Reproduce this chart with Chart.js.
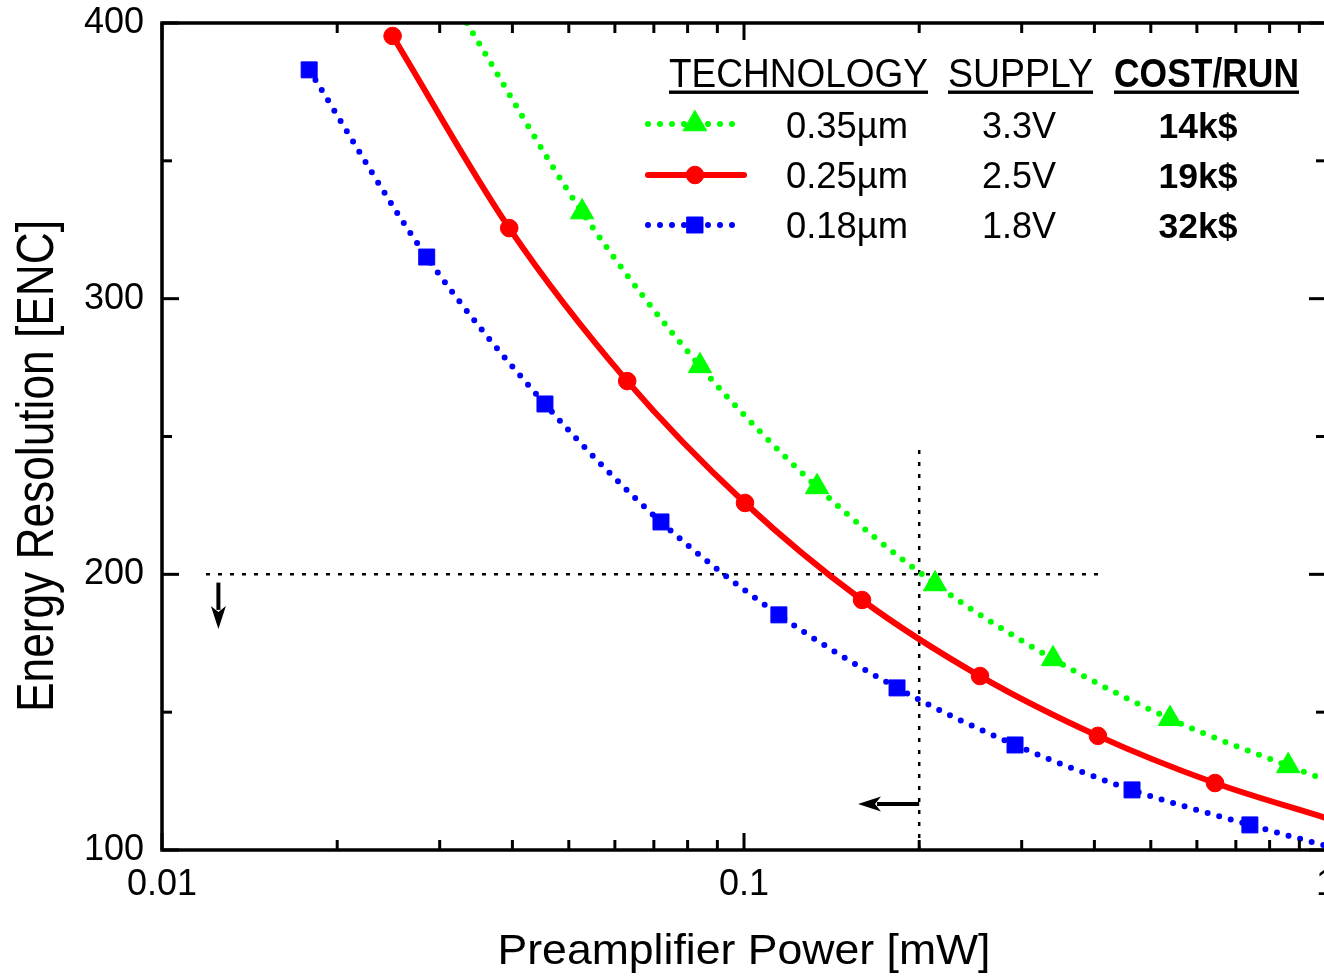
<!DOCTYPE html>
<html><head><meta charset="utf-8">
<script src="https://cdn.jsdelivr.net/npm/chart.js@4.4.1/dist/chart.umd.min.js"></script>
<style>
html,body{margin:0;padding:0;overflow:hidden;background:#fff;width:1324px;height:979px}
#wrap{position:relative;width:1324px;height:979px;overflow:hidden}
canvas{display:block}
</style></head>
<body><div id="wrap"><canvas id="c" width="1360" height="979"></canvas></div>
<script>
const FONT = '"Liberation Sans", Arial, Helvetica, sans-serif';

// ---- axis ticks ----
const xTickValues = [0.01, 0.1, 1];
const xTickLabels = ['0.01', '0.1', '1'];
const yTickValues = [100, 200, 300, 400];

// ---- legend table ----
const technology = ['0.35µm', '0.25µm', '0.18µm'];
const supply = ['3.3V', '2.5V', '1.8V'];
const costPerRun = ['14k$', '19k$', '32k$'];

// ---- 0.35µm (green) ----
const power035 = [0.0527, 0.0840, 0.1335, 0.2130, 0.3396, 0.5395, 0.861];
const enc035 = [331.4, 275.6, 231.7, 196.5, 169.3, 147.6, 130.5];
const curvePower035 = [0.0334, 0.0527, 0.0840, 0.1335, 0.2130, 0.3396, 0.5395, 0.861, 1.0];
const curveEnc035 = [400, 331.4, 275.6, 231.7, 196.5, 169.3, 147.6, 130.5, 125.4];

// ---- 0.25µm (red) ----
const power025 = [0.0249, 0.0395, 0.0630, 0.1004, 0.1595, 0.2544, 0.4056, 0.6446];
const enc025 = [395.3, 325.6, 270.1, 225.9, 190.7, 163.1, 141.4, 124.3];
const curvePower025 = [0.0249, 0.0395, 0.0630, 0.1004, 0.1595, 0.2544, 0.4056, 0.6446, 1.0];
const curveEnc025 = [395.3, 325.6, 270.1, 225.9, 190.7, 163.1, 141.4, 124.3, 111.6];

// ---- 0.18µm (blue) ----
const power018 = [0.0179, 0.0285, 0.0455, 0.0720, 0.1148, 0.1832, 0.2922, 0.4642, 0.740];
const enc018 = [383, 315.1, 261.8, 219, 185.3, 158.8, 138.1, 121.8, 109.1];
const curvePower018 = [0.0179, 0.0285, 0.0455, 0.0720, 0.1148, 0.1832, 0.2922, 0.4642, 0.740, 1.0];
const curveEnc018 = [383, 315.1, 261.8, 219, 185.3, 158.8, 138.1, 121.8, 109.1, 101.5];

// ---- guide lines and arrows ----
const guideHPower = [0.0119, 0.417];
const guideHEnc = [200, 200];
const guideVPower = [0.2, 0.2];
const guideVEnc = [100, 248];
const arrowDownPower = [0.0125, 0.0125];
const arrowDownEnc = [197, 180.2];
const arrowLeftPower = [0.2, 0.157];
const arrowLeftEnc = [116.7, 116.7];

const pts = (xs, ys) => xs.map((x, i) => ({x, y: ys[i]}));

const GREEN = '#00ff00', RED = '#ff0000', BLUE = '#0000ff';
const styles = [
  {color: GREEN, width: 6, dash: [0, 12], pointStyle: 'triangle', radius: 13.5},
  {color: RED, width: 6, dash: [], pointStyle: 'circle', radius: 8.8},
  {color: BLUE, width: 6, dash: [0, 12], pointStyle: 'rect', radius: 11.3}
];

function markerSet(xs, ys, s) {
  return {data: pts(xs, ys), showLine: false, pointStyle: s.pointStyle, pointRadius: s.radius,
    pointBackgroundColor: s.color, pointBorderColor: s.color, pointBorderWidth: 1, pointHoverRadius: s.radius};
}
function curveSet(xs, ys, s) {
  return {data: pts(xs, ys), borderColor: s.color, borderWidth: s.width, borderDash: s.dash,
    borderCapStyle: 'round', borderJoinStyle: 'round', pointRadius: 0, pointHoverRadius: 0,
    cubicInterpolationMode: 'monotone', fill: false};
}
function guideSet(xs, ys) {
  return {data: pts(xs, ys), borderColor: '#000', borderWidth: 2.5, borderDash: [4, 8],
    pointRadius: 0, pointHoverRadius: 0, tension: 0, fill: false};
}

const datasets = [
  markerSet(power035, enc035, styles[0]),
  markerSet(power025, enc025, styles[1]),
  markerSet(power018, enc018, styles[2]),
  curveSet(curvePower035, curveEnc035, styles[0]),
  curveSet(curvePower025, curveEnc025, styles[1]),
  curveSet(curvePower018, curveEnc018, styles[2]),
  guideSet(guideHPower, guideHEnc),
  guideSet(guideVPower, guideVEnc)
];

function fitText(ctx, text, x, y, font, targetWidth, align) {
  ctx.save();
  ctx.font = font;
  const w = ctx.measureText(text).width;
  const sx = targetWidth ? targetWidth / w : 1;
  const drawW = w * sx;
  let left = x;
  if (align === 'center') left = x - drawW / 2;
  else if (align === 'right') left = x - drawW;
  ctx.translate(left, y);
  ctx.scale(sx, 1);
  ctx.textAlign = 'left';
  ctx.textBaseline = 'alphabetic';
  ctx.fillText(text, 0, 0);
  ctx.restore();
  return {left, width: drawW};
}

function arrow(ctx, x1, y1, x2, y2) {
  const ang = Math.atan2(y2 - y1, x2 - x1);
  const headL = 23, headW = 7.5;
  const bx = x2 - Math.cos(ang) * headL, by = y2 - Math.sin(ang) * headL;
  ctx.save();
  ctx.strokeStyle = '#000'; ctx.fillStyle = '#000'; ctx.lineWidth = 4; ctx.setLineDash([]);
  ctx.beginPath(); ctx.moveTo(x1, y1); ctx.lineTo(bx + Math.cos(ang) * 4, by + Math.sin(ang) * 4); ctx.stroke();
  ctx.beginPath();
  ctx.moveTo(x2, y2);
  ctx.lineTo(bx + Math.sin(ang) * headW, by - Math.cos(ang) * headW);
  ctx.lineTo(bx + Math.cos(ang) * 6, by + Math.sin(ang) * 6);
  ctx.lineTo(bx - Math.sin(ang) * headW, by + Math.cos(ang) * headW);
  ctx.closePath(); ctx.fill();
  ctx.restore();
}

const decorations = {
  id: 'decorations',
  beforeDatasetsDraw(chart) {
    const {ctx, scales: {x, y}} = chart;
    arrow(ctx, x.getPixelForValue(arrowDownPower[0]), y.getPixelForValue(arrowDownEnc[0]),
      x.getPixelForValue(arrowDownPower[1]), y.getPixelForValue(arrowDownEnc[1]));
    arrow(ctx, x.getPixelForValue(arrowLeftPower[0]), y.getPixelForValue(arrowLeftEnc[0]),
      x.getPixelForValue(arrowLeftPower[1]), y.getPixelForValue(arrowLeftEnc[1]));
  },
  afterDatasetsDraw(chart) {
    const {ctx, chartArea: a, scales: {x, y}} = chart;
    ctx.save();
    ctx.strokeStyle = '#000';
    ctx.setLineDash([]);
    // frame
    ctx.lineWidth = 3.5;
    ctx.strokeRect(a.left, a.top, a.right - a.left, a.bottom - a.top);
    // x ticks
    ctx.lineWidth = 3;
    const xmin = x.min, xmax = x.max;
    for (let d = xmin; d < xmax * 0.999; d *= 10) {
      for (let k = 1; k <= 9; k++) {
        const v = d * k;
        const px = x.getPixelForValue(v);
        const L = k === 1 ? 17 : 10;
        ctx.beginPath(); ctx.moveTo(px, a.bottom); ctx.lineTo(px, a.bottom - L); ctx.stroke();
        ctx.beginPath(); ctx.moveTo(px, a.top); ctx.lineTo(px, a.top + L); ctx.stroke();
      }
    }
    // y ticks
    for (let v = y.min; v <= y.max; v += 50) {
      const py = y.getPixelForValue(v);
      const L = v % 100 === 0 ? 17 : 10;
      ctx.beginPath(); ctx.moveTo(a.left, py); ctx.lineTo(a.left + L, py); ctx.stroke();
      ctx.beginPath(); ctx.moveTo(a.right, py); ctx.lineTo(a.right - L, py); ctx.stroke();
    }
    ctx.restore();

    // axis titles
    ctx.save();
    ctx.fillStyle = '#000';
    fitText(ctx, 'Preamplifier Power [mW]', 744, 964, '43px ' + FONT, 493, 'center');
    ctx.save();
    ctx.translate(53, 466);
    ctx.rotate(-Math.PI / 2);
    fitText(ctx, 'Energy Resolution [ENC]', 0, 0, '51px ' + FONT, 492, 'center');
    ctx.restore();

    // legend headers
    const heads = [
      {t: 'TECHNOLOGY', left: 669, w: 259, bold: false},
      {t: 'SUPPLY', left: 948, w: 145, bold: false},
      {t: 'COST/RUN', left: 1114, w: 185, bold: true}
    ];
    heads.forEach(h => {
      const r = fitText(ctx, h.t, h.left, 87, (h.bold ? 'bold ' : '') + '40px ' + FONT, h.w, 'left');
      ctx.fillRect(r.left, 90.5, r.width, 3.4);
    });
    // legend rows
    const rowBase = [137.5, 187.5, 237.5];
    const rowMid = [124, 175, 225];
    for (let i = 0; i < 3; i++) {
      fitText(ctx, technology[i], 786, rowBase[i], '36px ' + FONT, 122, 'left');
      fitText(ctx, supply[i], 1019, rowBase[i], '36px ' + FONT, 0, 'center');
      fitText(ctx, costPerRun[i], 1198, rowBase[i], 'bold 35.5px ' + FONT, 0, 'center');
      const s = styles[i];
      ctx.save();
      ctx.strokeStyle = s.color; ctx.lineWidth = s.width; ctx.lineCap = 'round';
      ctx.setLineDash(s.dash);
      ctx.beginPath(); ctx.moveTo(648, rowMid[i]); ctx.lineTo(744, rowMid[i]); ctx.stroke();
      ctx.setLineDash([]);
      ctx.fillStyle = s.color; ctx.strokeStyle = s.color; ctx.lineWidth = 1;
      Chart.helpers.drawPoint(ctx, {pointStyle: s.pointStyle, radius: s.radius, borderWidth: 1, rotation: 0}, 695, rowMid[i]);
      ctx.restore();
    }
    ctx.restore();
  }
};

new Chart(document.getElementById('c').getContext('2d'), {
  type: 'line',
  data: {datasets},
  options: {
    responsive: false,
    animation: false,
    events: [],
    layout: {padding: {left: 0, right: 34, top: 23, bottom: 0}},
    plugins: {legend: {display: false}, tooltip: {enabled: false}},
    scales: {
      x: {
        type: 'logarithmic', min: 0.01, max: 1,
        grid: {display: false, drawTicks: false}, border: {display: false},
        afterBuildTicks: s => { s.ticks = xTickValues.map(v => ({value: v, major: true})); },
        ticks: {
          autoSkip: false, maxRotation: 0, minRotation: 0, padding: 13, color: '#000',
          font: {family: FONT, size: 36},
          callback: (v) => { const i = xTickValues.indexOf(v); return i >= 0 ? xTickLabels[i] : ''; }
        },
        afterFit: s => { s.height = 979 - 850; s.paddingLeft = 0; s.paddingRight = 0; }
      },
      y: {
        type: 'linear', min: 100, max: 400,
        grid: {display: false, drawTicks: false}, border: {display: false},
        afterBuildTicks: s => { s.ticks = yTickValues.map(v => ({value: v})); },
        ticks: {padding: 18, color: '#000', font: {family: FONT, size: 36}, callback: v => String(v)},
        afterFit: s => { s.width = 162; s.paddingTop = 0; s.paddingBottom = 0; }
      }
    }
  },
  plugins: [decorations]
});
</script>
</body></html>
